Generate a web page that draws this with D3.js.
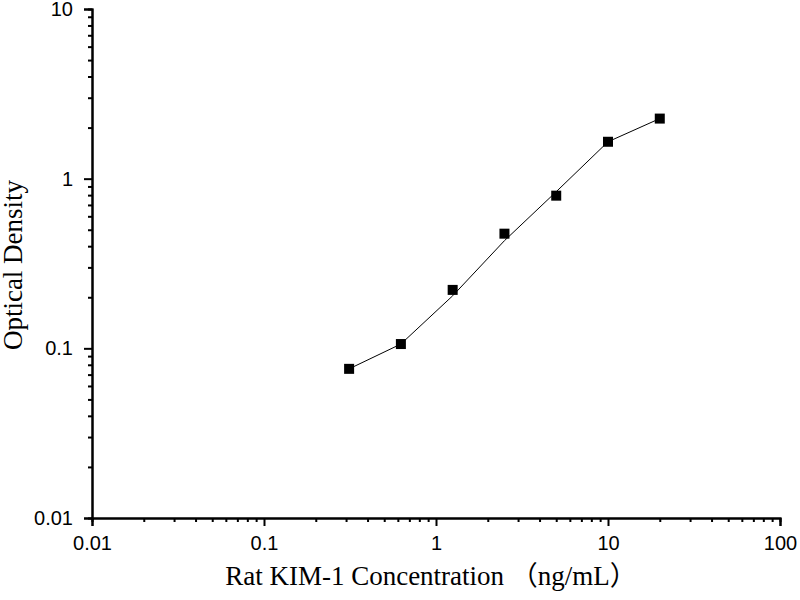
<!DOCTYPE html>
<html>
<head>
<meta charset="utf-8">
<script src="https://cdn.jsdelivr.net/npm/d3@7"></script>
<style>
  body { margin: 0; background: #fff; }
  svg { display: block; }
</style>
</head>
<body>
<svg id="chart" width="800" height="600"></svg>
<script>
// 标准品浓度 (ng/mL) 与 OD 值
const concentrations = [0.3125, 0.625, 1.25, 2.5, 5, 10, 20]
const odValues = [0.0757, 0.106, 0.221, 0.474, 0.794, 1.65, 2.26]
// 拟合曲线
const fitValues = [0.0757, 0.106, 0.204, 0.431, 0.838, 1.65, 2.26]
const xTicks = [0.01, 0.1, 1, 10, 100]
const yTicks = [0.01, 0.1, 1, 10]

const margin = { left: 92, right: 20, top: 9, bottom: 82 }
const width = 800, height = 600

const svg = d3.select("#chart")

const x = d3.scaleLog()
            .domain([0.01, 100])
            .range([margin.left, width - margin.right])
const y = d3.scaleLog()
            .domain([0.01, 10])
            .range([height - margin.bottom, margin.top])

// 次刻度
function minorTicks(lo, hi) {
  var out = []
  for (var d = lo; d < hi; d *= 10) {
    for (var k = 2; k <= 9; k++) out.push(d * k)
  }
  return out
}

// X 轴
var gx = svg.append("g")
            .attr("transform", "translate(0," + (height - margin.bottom) + ")")
gx.call(d3.axisBottom(x).tickValues(minorTicks(0.01, 100)).tickSize(4).tickFormat(""))
gx.append("g")
  .call(d3.axisBottom(x).tickValues(xTicks).tickSize(8).tickFormat(d3.format("~g")))
gx.selectAll("path.domain").attr("stroke-width", 2)
gx.selectAll(".tick line").attr("stroke-width", 2)
gx.selectAll("text")
  .attr("font-family", "Liberation Sans, Arial, sans-serif")
  .attr("font-size", 20)
  .attr("fill", "#000")
  .attr("dy", "1.05em")

// Y 轴
var gy = svg.append("g")
            .attr("transform", "translate(" + margin.left + ",0)")
gy.call(d3.axisLeft(y).tickValues(minorTicks(0.01, 10)).tickSize(4).tickFormat(""))
gy.append("g")
  .call(d3.axisLeft(y).tickValues(yTicks).tickSize(8).tickFormat(d3.format("~g")))
gy.selectAll("path.domain").attr("stroke-width", 2)
gy.selectAll(".tick line").attr("stroke-width", 2)
gy.selectAll("text")
  .attr("font-family", "Liberation Sans, Arial, sans-serif")
  .attr("font-size", 20)
  .attr("fill", "#000")
  .attr("x", -19)

// 拟合曲线
var line = d3.line()
             .x((d, i) => x(concentrations[i]))
             .y(d => y(d))
svg.append("path")
   .datum(fitValues)
   .attr("d", line)
   .attr("fill", "none")
   .attr("stroke", "#000")
   .attr("stroke-width", 1)

// 数据点
svg.append("g")
   .selectAll("rect")
   .data(odValues)
   .join("rect")
   .attr("x", (d, i) => x(concentrations[i]) - 5)
   .attr("y", d => y(d) - 5)
   .attr("width", 10)
   .attr("height", 10)
   .attr("fill", "#000")

// 轴标题
svg.append("text")
   .attr("x", 431)
   .attr("y", 585)
   .attr("text-anchor", "middle")
   .attr("font-family", "Liberation Serif, Times New Roman, Noto Sans CJK SC, serif")
   .attr("font-size", 27)
   .text("Rat KIM-1 Concentration （ng/mL）")

svg.append("text")
   .attr("transform", "translate(22," + 265 + ") rotate(-90)")
   .attr("text-anchor", "middle")
   .attr("font-family", "Liberation Serif, Times New Roman, serif")
   .attr("font-size", 27)
   .text("Optical Density")
</script>
</body>
</html>
